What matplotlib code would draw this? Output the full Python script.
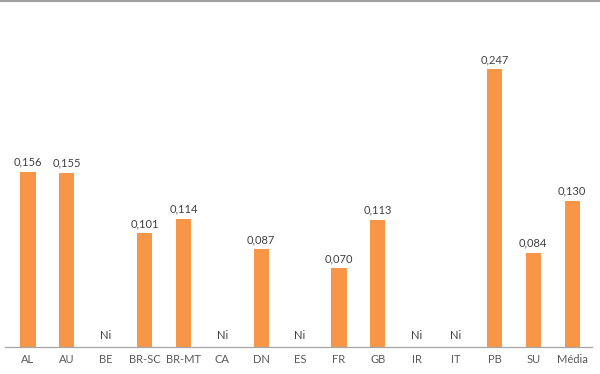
import numpy as np
import matplotlib
matplotlib.use("Agg")
import matplotlib.pyplot as plt

# data
categories = ['AL', 'AU', 'BE', 'BR-SC', 'BR-MT', 'CA', 'DN', 'ES', 'FR', 'GB',
              'IR', 'IT', 'PB', 'SU', 'Média']
values = [0.156, 0.155, None, 0.101, 0.114, None, 0.087, None, 0.070, 0.113,
          None, None, 0.247, 0.084, 0.130]
missing_label = 'Ni'

plt.rcParams['font.family'] = ['Lato', 'DejaVu Sans']

fig = plt.figure(figsize=(6.0, 3.74), dpi=100)
ax = fig.add_axes([5 / 600, 27 / 374, 587 / 600, 347 / 374])

x = np.arange(len(categories))
heights = [v if v is not None else 0 for v in values]
ax.bar(x, heights, width=0.39, color='#F79646', zorder=2)

for xi, v in zip(x, values):
    if v is None:
        ax.annotate(missing_label, (xi, 0), xytext=(0, 4), textcoords='offset points',
                    ha='center', va='bottom', fontsize=8, color='#404040')
    else:
        ax.annotate(('%.3f' % v).replace('.', ','), (xi, v), xytext=(0, 3),
                    textcoords='offset points', ha='center', va='bottom',
                    fontsize=8, color='#404040')

ax.set_xlim(-0.59, 14.51)
ax.set_ylim(0, 347 / 1125)
ax.set_xticks(x)
ax.set_xticklabels(categories, fontsize=8, color='#595959')
ax.tick_params(axis='x', length=0, pad=5)
ax.set_yticks([])
for side in ['top', 'right', 'left']:
    ax.spines[side].set_visible(False)
ax.spines['bottom'].set_color('#A6A6A6')
ax.spines['bottom'].set_linewidth(0.9)

# gray border line along the top of the picture
fig.add_artist(plt.Line2D([0, 1], [0.997, 0.997], transform=fig.transFigure,
                          color='#A0A0A0', linewidth=1.5))

fig.savefig('out.png', dpi=100, facecolor='white')
